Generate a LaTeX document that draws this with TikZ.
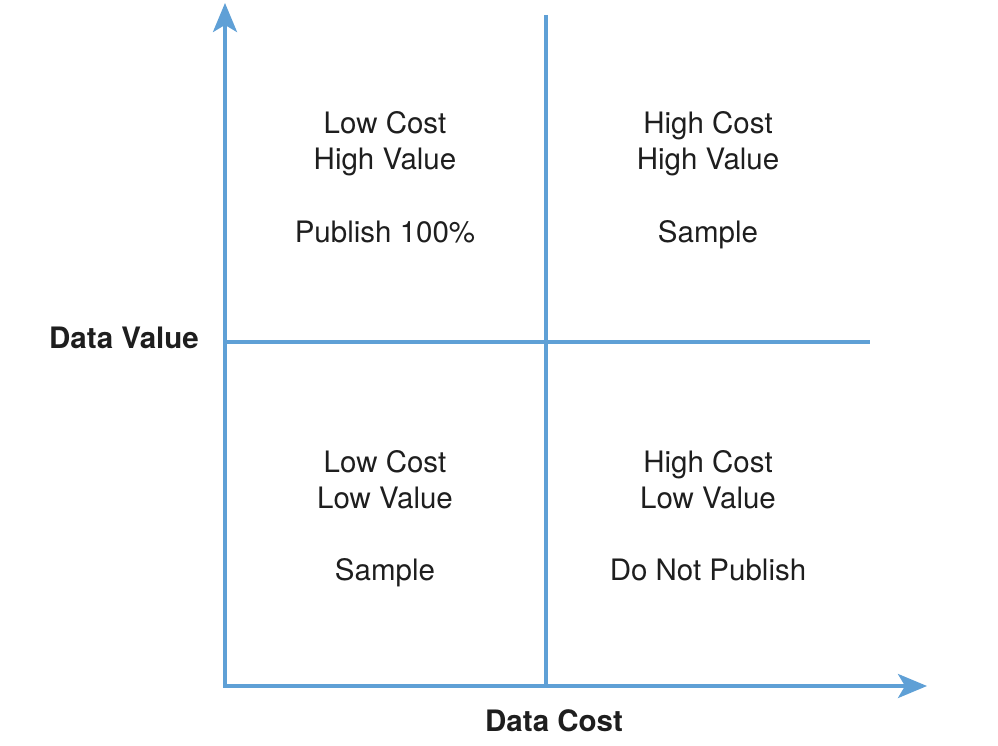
\documentclass[tikz,border=0pt]{standalone}
\usepackage{fontspec}
\setmainfont{TeX Gyre Heros}
\usetikzlibrary{arrows.meta}
\definecolor{axisblue}{RGB}{95,160,214}
\definecolor{txt}{RGB}{30,30,30}
\begin{document}
\begin{tikzpicture}[x=1pt,y=-1pt,
  axisline/.style={draw=axisblue,line width=3.5pt},
  axisarrow/.style={axisline,-{Stealth[length=29pt,width=24pt,inset=7pt]}},
  quad/.style={anchor=base,text=txt,font=\fontsize{29.5}{34}\selectfont,inner sep=0pt},
  axlabel/.style={anchor=base,text=txt,font=\bfseries\fontsize{29.5}{34}\selectfont,inner sep=0pt}]
\useasboundingbox (0,0) rectangle (998,746);
\coordinate (O) at (225,686);
\coordinate (ytip) at (225,3);
\coordinate (xtip) at (927,686);
\coordinate (vtop) at (546,15);
\coordinate (vbot) at (546,686);
\coordinate (hl) at (225,342);
\coordinate (hr) at (870,342);
\draw[axisline] (vtop) -- (vbot);
\draw[axisline] (hl) -- (hr);
\draw[axisarrow] ([yshift=1.75pt]O) -- (ytip);
\draw[axisarrow] ([xshift=-1.75pt]O) -- (xtip);
\node[quad] (q1a) at (385,134) {Low Cost};
\node[quad] (q1b) at (385,170) {High Value};
\node[quad] (q1c) at (385,242) {Publish 100\%};
\node[quad] (q2a) at (708,134) {High Cost};
\node[quad] (q2b) at (708,170) {High Value};
\node[quad] (q2c) at (708,242) {Sample};
\node[quad] (q3a) at (385,472) {Low Cost};
\node[quad] (q3b) at (385,508) {Low Value};
\node[quad] (q3c) at (385,580) {Sample};
\node[quad] (q4a) at (708,472) {High Cost};
\node[quad] (q4b) at (708,508) {Low Value};
\node[quad] (q4c) at (708,580) {Do Not Publish};
\node[axlabel] (yl) at (124,348) {Data Value};
\node[axlabel] (xl) at (554,731) {Data Cost};
\end{tikzpicture}
\end{document}
